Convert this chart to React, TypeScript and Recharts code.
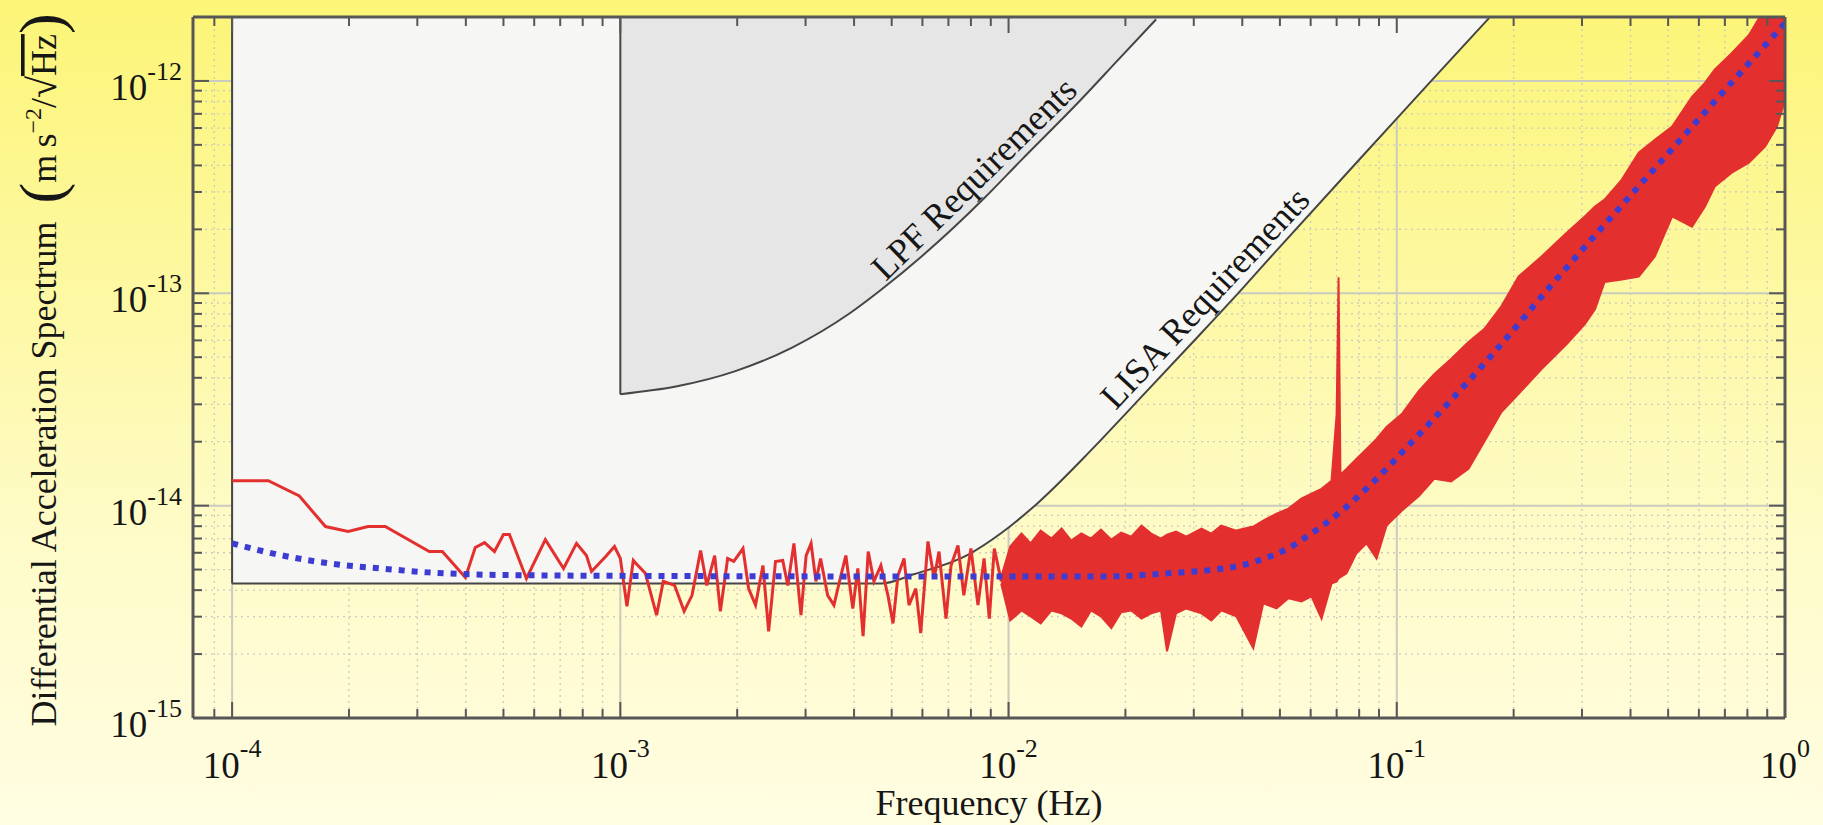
import {
  Area,
  CartesianGrid,
  ComposedChart,
  Line,
  ReferenceDot,
  ReferenceLine,
  XAxis,
  YAxis,
} from 'recharts';

const W = 1823;
const H = 825;
const SERIF = '"Liberation Serif", "DejaVu Serif", "Times New Roman", serif';
const INK = '#161616';
const FRAME = '#575757';
const GRID = '#cbcbbf';
const RED = '#e3302f';
const BLUE = '#3c3cd2';
const BG =
  'linear-gradient(180deg, #fcf577 0%, #fdf8a2 35%, #fefbc8 65%, #fffde2 100%)';

// axis limits (Hz / m s^-2 Hz^-1/2)
const X_MIN = 7.93e-5;
const X_MAX = 1;
const Y_MIN = 1e-15;
const Y_MAX = 2e-12;

const xTicks = [
  9e-5, 1e-4, 2e-4, 3e-4, 4e-4, 5e-4, 6e-4, 7e-4, 8e-4, 9e-4, 1e-3, 2e-3, 3e-3,
  4e-3, 5e-3, 6e-3, 7e-3, 8e-3, 9e-3, 1e-2, 2e-2, 3e-2, 4e-2, 5e-2, 6e-2, 7e-2,
  8e-2, 9e-2, 1e-1, 2e-1, 3e-1, 4e-1, 5e-1, 6e-1, 7e-1, 8e-1, 9e-1, 1,
];
const yTicks = [
  1e-15, 2e-15, 3e-15, 4e-15, 5e-15, 6e-15, 7e-15, 8e-15, 9e-15, 1e-14, 2e-14,
  3e-14, 4e-14, 5e-14, 6e-14, 7e-14, 8e-14, 9e-14, 1e-13, 2e-13, 3e-13, 4e-13,
  5e-13, 6e-13, 7e-13, 8e-13, 9e-13, 1e-12,
];
const xDecades = [1e-4, 1e-3, 1e-2, 1e-1, 1];
const yDecades = [1e-15, 1e-14, 1e-13, 1e-12];

// measured spectrum, low frequency part (single trace)
const lowFreq = [
  1.0e-4, 1.24e-4, 1.49e-4, 1.74e-4, 1.99e-4, 2.24e-4, 2.48e-4, 3.22e-4, 3.48e-4,
  3.99e-4, 4.23e-4, 4.47e-4, 4.74e-4, 5.0e-4, 5.18e-4, 5.73e-4, 6.41e-4, 7.14e-4,
  7.71e-4, 8.18e-4, 8.43e-4, 9.17e-4, 9.66e-4, 1.0e-3, 1.04e-3, 1.08e-3, 1.11e-3,
  1.16e-3, 1.24e-3, 1.29e-3, 1.38e-3, 1.46e-3, 1.53e-3, 1.61e-3, 1.67e-3, 1.75e-3,
  1.81e-3, 1.89e-3, 1.96e-3, 2.07e-3, 2.14e-3, 2.23e-3, 2.33e-3, 2.41e-3, 2.51e-3,
  2.62e-3, 2.7e-3, 2.8e-3, 2.92e-3, 3.01e-3, 3.1e-3, 3.19e-3, 3.28e-3, 3.42e-3,
  3.55e-3, 3.7e-3, 3.81e-3, 3.97e-3, 4.09e-3, 4.22e-3, 4.35e-3, 4.5e-3, 4.69e-3,
  4.89e-3, 5.04e-3, 5.19e-3, 5.38e-3, 5.54e-3, 5.77e-3, 5.94e-3, 6.2e-3, 6.43e-3,
  6.62e-3, 6.9e-3, 7.11e-3, 7.41e-3, 7.67e-3, 8.0e-3, 8.34e-3, 8.65e-3, 8.92e-3,
  9.19e-3, 9.58e-3,
];
const lowAsd = [
  1.31e-14, 1.31e-14, 1.11e-14, 7.97e-15, 7.55e-15, 7.97e-15, 7.97e-15, 6.08e-15,
  6.08e-15, 4.59e-15, 6.35e-15, 6.7e-15, 6.08e-15, 7.31e-15, 7.31e-15, 4.54e-15,
  6.92e-15, 5.06e-15, 6.64e-15, 5.82e-15, 4.9e-15, 5.76e-15, 6.42e-15, 5.64e-15,
  3.36e-15, 5.52e-15, 5.23e-15, 4.8e-15, 3.05e-15, 4.4e-15, 4.21e-15, 3.18e-15,
  3.78e-15, 6.15e-15, 4.21e-15, 5.82e-15, 3.18e-15, 5.64e-15, 5.46e-15, 6.28e-15,
  4.07e-15, 3.4e-15, 5.23e-15, 2.56e-15, 5.46e-15, 5.52e-15, 4.21e-15, 6.64e-15,
  3.05e-15, 5.82e-15, 6.64e-15, 4.4e-15, 5.64e-15, 3.78e-15, 3.4e-15, 4.69e-15,
  5.82e-15, 3.28e-15, 5.06e-15, 2.43e-15, 6.08e-15, 4.4e-15, 5.23e-15, 3.78e-15,
  2.79e-15, 4.69e-15, 5.64e-15, 3.4e-15, 4.07e-15, 2.51e-15, 6.78e-15, 4.54e-15,
  6.08e-15, 2.94e-15, 5.23e-15, 6.49e-15, 3.78e-15, 6.28e-15, 3.4e-15, 5.64e-15,
  2.94e-15, 6.28e-15, 4.4e-15,
];

// above ~10 mHz the trace is a dense band: lower / upper envelope
const bandFreq = [
  9.57e-3, 1.01e-2, 1.08e-2, 1.14e-2, 1.21e-2, 1.29e-2, 1.37e-2, 1.45e-2, 1.54e-2,
  1.63e-2, 1.73e-2, 1.84e-2, 1.95e-2, 2.07e-2, 2.2e-2, 2.33e-2, 2.47e-2, 2.56e-2,
  2.7e-2, 2.87e-2, 3.14e-2, 3.33e-2, 3.53e-2, 3.86e-2, 4.27e-2, 4.53e-2, 4.9e-2,
  5.26e-2, 5.68e-2, 6.03e-2, 6.4e-2, 6.79e-2, 7.0e-2, 7.08e-2, 7.16e-2, 7.42e-2,
  7.87e-2, 8.36e-2, 8.87e-2, 9.41e-2, 0.103, 0.114, 0.125, 0.138, 0.153, 0.168,
  0.186, 0.206, 0.236, 0.274, 0.305, 0.324, 0.343, 0.38, 0.42, 0.462, 0.512, 0.576,
  0.622, 0.659, 0.729, 0.807, 0.888, 0.953, 1.0,
];
const bandLow = [
  4.3e-15, 2.88e-15, 3.21e-15, 3.01e-15, 2.79e-15, 3.21e-15, 3.11e-15, 2.94e-15,
  2.7e-15, 3.21e-15, 3.01e-15, 2.65e-15, 3.15e-15, 3.21e-15, 2.94e-15, 3.11e-15,
  3.21e-15, 2.06e-15, 3.11e-15, 3.28e-15, 3.11e-15, 2.88e-15, 3.21e-15, 3.01e-15,
  2.13e-15, 3.47e-15, 3.28e-15, 3.66e-15, 3.54e-15, 3.74e-15, 2.94e-15, 4.3e-15,
  4.4e-15, 4.54e-15, 4.6e-15, 4.8e-15, 5.96e-15, 6.64e-15, 5.64e-15, 8.05e-15,
  9.47e-15, 1.11e-14, 1.34e-14, 1.3e-14, 1.49e-14, 2.0e-14, 2.76e-14, 3.36e-14,
  4.4e-14, 5.76e-14, 7.15e-14, 8.41e-14, 1.13e-13, 1.16e-13, 1.2e-13, 1.49e-13,
  2.3e-13, 2.06e-13, 2.56e-13, 3.18e-13, 3.7e-13, 4.12e-13, 4.9e-13, 6.09e-13,
  8.14e-13,
];
const bandHigh = [
  4.6e-15, 6.42e-15, 7.39e-15, 6.64e-15, 7.63e-15, 7.0e-15, 7.8e-15, 6.85e-15,
  7.39e-15, 7.0e-15, 7.71e-15, 6.92e-15, 7.47e-15, 7.15e-15, 8.05e-15, 7.39e-15,
  7.0e-15, 7.31e-15, 7.55e-15, 7.15e-15, 7.8e-15, 7.39e-15, 8.05e-15, 7.63e-15,
  7.97e-15, 8.51e-15, 9.17e-15, 9.68e-15, 1.08e-14, 1.14e-14, 1.2e-14, 1.31e-14,
  2.7e-14, 1.19e-13, 1.4e-14, 1.49e-14, 1.66e-14, 1.85e-14, 2.06e-14, 2.35e-14,
  2.7e-14, 3.47e-14, 4.17e-14, 4.9e-14, 5.89e-14, 6.78e-14, 8.69e-14, 1.2e-13,
  1.49e-13, 1.93e-13, 2.3e-13, 2.56e-13, 2.76e-13, 3.43e-13, 4.59e-13, 5.28e-13,
  6.09e-13, 8.41e-13, 9.79e-13, 1.13e-12, 1.35e-12, 1.64e-12, 2.2e-12, 2.4e-12,
  2.5e-12,
];

// noise model (blue dotted)
const fitFreq = [
  1.0e-4, 1.35e-4, 1.79e-4, 2.41e-4, 3.2e-4, 4.28e-4, 6.61e-4, 1.5e-3, 5.0e-3,
  1.76e-2, 2.58e-2, 3.43e-2, 3.98e-2, 4.56e-2, 5.13e-2, 5.92e-2, 7.07e-2, 8.77e-2,
  0.107, 0.13, 0.159, 0.184, 0.251, 0.454, 1.0,
];
const fitAsd = [
  6.64e-15, 5.82e-15, 5.34e-15, 5.06e-15, 4.85e-15, 4.74e-15, 4.69e-15, 4.66e-15,
  4.64e-15, 4.64e-15, 4.8e-15, 5.01e-15, 5.23e-15, 5.64e-15, 6.15e-15, 7.23e-15,
  9.17e-15, 1.31e-14, 1.91e-14, 2.79e-14, 4.17e-14, 5.64e-14, 1.1e-13, 3.74e-13,
  1.87e-12,
];

// LISA requirement curve
const lisaFreq = [
  1e-4, 4.7e-3, 5.7e-3, 7.9e-3, 9.6e-3, 1.19e-2, 1.63e-2, 2.11e-2, 2.96e-2,
  3.98e-2, 4.84e-2, 0.103, 0.122, 0.173,
];
const lisaReq = [
  4.3e-15, 4.3e-15, 4.75e-15, 5.9e-15, 7.45e-15, 1.03e-14, 1.82e-14, 3.0e-14,
  5.8e-14, 1.04e-13, 1.55e-13, 7.05e-13, 9.9e-13, 1.98e-12,
];

// LPF requirement curve
const lpfFreq = [
  1.0e-3, 1.4e-3, 1.97e-3, 2.77e-3, 3.9e-3, 4.67e-3, 6.12e-3, 8.65e-3, 1.08e-2,
  1.52e-2, 1.91e-2, 2.4e-2,
];
const lpfReq = [
  3.35e-14, 3.65e-14, 4.29e-14, 5.55e-14, 8.05e-14, 1.03e-13, 1.55e-13, 2.8e-13,
  4.25e-13, 8.0e-13, 1.25e-12, 1.95e-12,
];

const lowData = lowFreq.map((f, i) => ({ f, asd: lowAsd[i] }));
const bandData = bandFreq.map((f, i) => ({ f, band: [bandLow[i], bandHigh[i]] }));
const fitData = fitFreq.map((f, i) => ({ f, fit: fitAsd[i] }));
const lisaData = lisaFreq.map((f, i) => ({ f, req: lisaReq[i] }));
const lpfData = lpfFreq.map((f, i) => ({ f, req: lpfReq[i] }));

const isDecade = (v: number) =>
  Math.abs(Math.log10(v) - Math.round(Math.log10(v))) < 1e-6;
const expOf = (v: number) => Math.round(Math.log10(v));

function BottomTick({ x, y, payload }: any) {
  const major = isDecade(payload.value);
  return (
    <g>
      <line x1={x} x2={x} y1={y} y2={y - (major ? 16 : 9)} stroke={FRAME} strokeWidth={2} />
      {major && (
        <text x={x} y={y + 60} textAnchor="middle" fontFamily={SERIF} fontSize={37} fill={INK}>
          10
          <tspan dy={-21} fontSize={26}>
            {expOf(payload.value)}
          </tspan>
        </text>
      )}
    </g>
  );
}

function TopTick({ x, y, payload }: any) {
  const major = isDecade(payload.value);
  return <line x1={x} x2={x} y1={y} y2={y + (major ? 16 : 9)} stroke={FRAME} strokeWidth={2} />;
}

function LeftTick({ x, y, payload }: any) {
  const major = isDecade(payload.value);
  return (
    <g>
      <line x1={x} x2={x + (major ? 16 : 9)} y1={y} y2={y} stroke={FRAME} strokeWidth={2} />
      {major && (
        <text x={x - 11} y={y + 19} textAnchor="end" fontFamily={SERIF} fontSize={37} fill={INK}>
          10
          <tspan dy={-20} fontSize={26}>
            {expOf(payload.value)}
          </tspan>
        </text>
      )}
    </g>
  );
}

function RightTick({ x, y, payload }: any) {
  const major = isDecade(payload.value);
  return <line x1={x} x2={x - (major ? 16 : 9)} y1={y} y2={y} stroke={FRAME} strokeWidth={2} />;
}

function SlopeLabel({ viewBox, caption, rot }: any) {
  const { x, y } = viewBox;
  return (
    <text
      x={x}
      y={y}
      transform={`rotate(${rot}, ${x}, ${y})`}
      fontFamily={SERIF}
      fontSize={36}
      fill={INK}
    >
      {caption}
    </text>
  );
}

const axisLine = { stroke: FRAME, strokeWidth: 3 };

export default function App() {
  return (
    <div
      style={{
        position: 'fixed',
        left: 0,
        top: 0,
        width: W,
        height: H,
        background: BG,
        overflow: 'hidden',
      }}
    >
      <ComposedChart
        width={W}
        height={H}
        margin={{ top: 16, right: 37, bottom: 106, left: 192 }}
      >
        <XAxis
          dataKey="f"
          type="number"
          scale="log"
          domain={[X_MIN, X_MAX]}
          allowDataOverflow
          ticks={xTicks}
          interval={0}
          height={1}
          tickSize={0}
          tickMargin={0}
          tickLine={false}
          axisLine={axisLine}
          tick={(p: any) => <BottomTick {...p} />}
        />
        <XAxis
          xAxisId="top"
          orientation="top"
          dataKey="f"
          type="number"
          scale="log"
          domain={[X_MIN, X_MAX]}
          allowDataOverflow
          ticks={xTicks}
          interval={0}
          height={1}
          tickSize={0}
          tickMargin={0}
          tickLine={false}
          axisLine={axisLine}
          tick={(p: any) => <TopTick {...p} />}
        />
        <YAxis
          type="number"
          scale="log"
          domain={[Y_MIN, Y_MAX]}
          allowDataOverflow
          ticks={yTicks}
          interval={0}
          width={1}
          tickSize={0}
          tickMargin={0}
          tickLine={false}
          axisLine={axisLine}
          tick={(p: any) => <LeftTick {...p} />}
        />
        <YAxis
          yAxisId="right"
          orientation="right"
          type="number"
          scale="log"
          domain={[Y_MIN, Y_MAX]}
          allowDataOverflow
          ticks={yTicks}
          interval={0}
          width={1}
          tickSize={0}
          tickMargin={0}
          tickLine={false}
          axisLine={axisLine}
          tick={(p: any) => <RightTick {...p} />}
        />

        <Area
          data={lisaData}
          dataKey="req"
          type="monotone"
          baseValue="dataMax"
          fill="#f6f6f5"
          fillOpacity={1}
          stroke="#454545"
          strokeWidth={2}
          dot={false}
          activeDot={false}
          isAnimationActive={false}
        />
        <Area
          data={lpfData}
          dataKey="req"
          type="monotone"
          baseValue="dataMax"
          fill="#e6e6e6"
          fillOpacity={1}
          stroke="#454545"
          strokeWidth={2}
          dot={false}
          activeDot={false}
          isAnimationActive={false}
        />
        <ReferenceLine
          segment={[
            { x: lisaFreq[0], y: lisaReq[0] },
            { x: lisaFreq[0], y: Y_MAX },
          ]}
          stroke="#454545"
          strokeWidth={2}
          ifOverflow="visible"
        />
        <ReferenceLine
          segment={[
            { x: lpfFreq[0], y: lpfReq[0] },
            { x: lpfFreq[0], y: Y_MAX },
          ]}
          stroke="#454545"
          strokeWidth={2}
          ifOverflow="visible"
        />

        <CartesianGrid
          horizontalValues={yTicks}
          verticalValues={xTicks}
          stroke={GRID}
          strokeWidth={1.3}
          strokeDasharray="2 4"
        />
        <CartesianGrid
          horizontalValues={yDecades}
          verticalValues={xDecades}
          stroke={GRID}
          strokeWidth={2}
        />

        <Line
          data={lowData}
          dataKey="asd"
          type="linear"
          stroke={RED}
          strokeWidth={3}
          dot={false}
          activeDot={false}
          isAnimationActive={false}
        />
        <Area
          data={bandData}
          dataKey="band"
          type="linear"
          fill={RED}
          fillOpacity={1}
          stroke={RED}
          strokeWidth={2}
          dot={false}
          activeDot={false}
          isAnimationActive={false}
        />
        <Line
          data={fitData}
          dataKey="fit"
          type="monotone"
          stroke={BLUE}
          strokeWidth={6}
          strokeDasharray="6 7"
          dot={false}
          activeDot={false}
          isAnimationActive={false}
        />

        <ReferenceDot
          x={4.83e-3}
          y={1.13e-13}
          r={0}
          fill="none"
          stroke="none"
          ifOverflow="visible"
          label={<SlopeLabel caption="LPF Requirements" rot={-44.5} />}
        />
        <ReferenceDot
          x={1.89e-2}
          y={2.79e-14}
          r={0}
          fill="none"
          stroke="none"
          ifOverflow="visible"
          label={<SlopeLabel caption="LISA Requirements" rot={-47} />}
        />
      </ComposedChart>

      <svg
        width={W}
        height={H}
        style={{ position: 'absolute', left: 0, top: 0, pointerEvents: 'none' }}
      >
        <text
          x={989}
          y={815}
          textAnchor="middle"
          fontFamily={SERIF}
          fontSize={36}
          fill={INK}
        >
          Frequency (Hz)
        </text>
        <text
          transform="translate(56, 370) rotate(-90)"
          textAnchor="middle"
          fontFamily={SERIF}
          fontSize={36}
          fill={INK}
        >
          Differential Acceleration Spectrum{'\u00a0\u00a0'}
          <tspan fontSize={62} dy={6}>
            (
          </tspan>
          <tspan fontSize={36} dy={-6}>
            {'m\u2009s'}
          </tspan>
          <tspan fontSize={24} dy={-15}>
            {'\u22122'}
          </tspan>
          <tspan fontSize={36} dy={15}>
            /
          </tspan>
          <tspan fontSize={40}>{'\u221a'}</tspan>
          <tspan style={{ textDecoration: 'overline' }}>Hz</tspan>
          <tspan fontSize={62} dy={6}>
            )
          </tspan>
        </text>
      </svg>
    </div>
  );
}
